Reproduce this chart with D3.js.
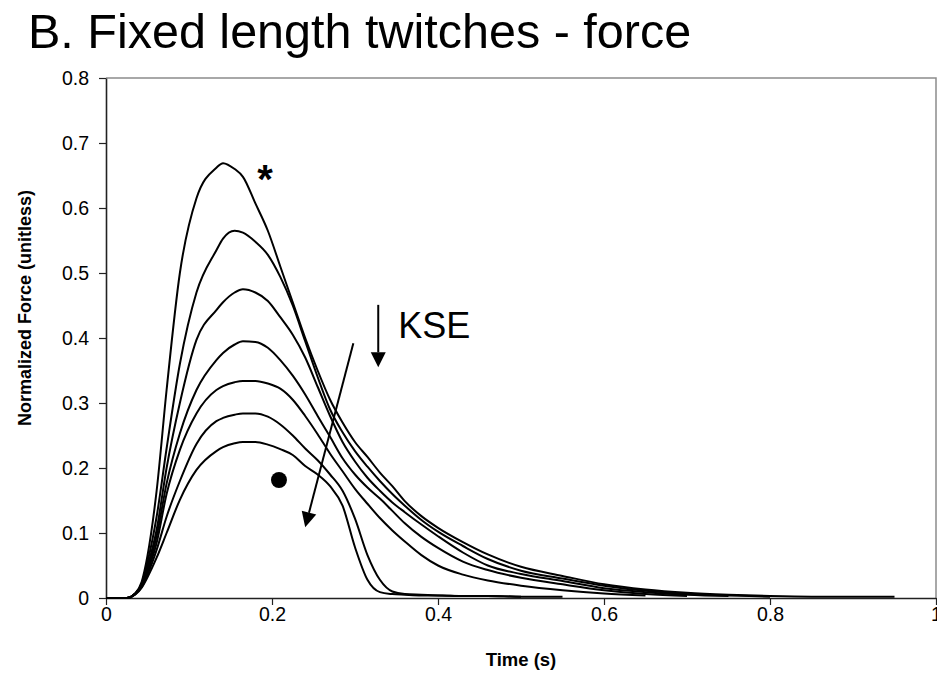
<!DOCTYPE html>
<html>
<head>
<meta charset="utf-8">
<style>
  body { margin: 0; background: #fff; }
  text { font-family: "Liberation Sans", Arial, sans-serif; fill: #000; }
</style>
</head>
<body>
<svg id="chart" width="937" height="690"></svg>
<script src="https://cdn.jsdelivr.net/npm/d3@7"></script>
<script>
// time (s) shared by all twitches
const time = [0, 0.025, 0.035, 0.043, 0.05, 0.061, 0.073, 0.089, 0.109, 0.133, 0.141, 0.155, 0.165, 0.18,
  0.195, 0.21, 0.225, 0.24, 0.255, 0.27, 0.285, 0.30, 0.315, 0.33, 0.345, 0.36, 0.38, 0.40, 0.43, 0.46,
  0.50, 0.55, 0.60, 0.65, 0.70, 0.75, 0.80, 0.85, 0.90, 0.95]

// normalized force, one array per KSE value (null = series ended)
const force1 = [0, 0, 0.007, 0.025, 0.065, 0.165, 0.32, 0.50, 0.615, 0.662, 0.669, 0.66, 0.648, 0.607,
  0.565, 0.51, 0.455, 0.40, 0.35, 0.305, 0.27, 0.24, 0.217, 0.193, 0.172, 0.149, 0.126, 0.108, 0.086, 0.067,
  0.048, 0.034, 0.021, 0.013, 0.008, 0.005, 0.003, 0.002, 0.002, 0.002]
const force2 = [0, 0, 0.007, 0.022, 0.055, 0.125, 0.23, 0.36, 0.47, 0.535, 0.553, 0.565, 0.562, 0.548,
  0.528, 0.494, 0.45, 0.395, 0.34, 0.29, 0.255, 0.226, 0.202, 0.18, 0.16, 0.142, 0.12, 0.102, 0.08, 0.06,
  0.042, 0.03, 0.019, 0.011, 0.006, 0.004, 0.002, null, null, null]
const force3 = [0, 0, 0.006, 0.02, 0.048, 0.105, 0.20, 0.30, 0.397, 0.443, 0.455, 0.47, 0.475, 0.47,
  0.457, 0.432, 0.405, 0.37, 0.325, 0.28, 0.24, 0.21, 0.185, 0.165, 0.147, 0.132, 0.113, 0.095, 0.07, 0.05,
  0.037, 0.026, 0.015, 0.009, 0.005, 0.003, null, null, null, null]
const force4 = [0, 0, 0.006, 0.019, 0.043, 0.095, 0.176, 0.253, 0.32, 0.366, 0.377, 0.39, 0.395, 0.394,
  0.385, 0.366, 0.342, 0.313, 0.28, 0.248, 0.215, 0.19, 0.17, 0.153, 0.134, 0.115, 0.094, 0.077, 0.056, 0.043,
  0.031, 0.021, 0.012, 0.006, 0.003, null, null, null, null, null]
const force5 = [0, 0, 0.006, 0.018, 0.04, 0.085, 0.16, 0.228, 0.284, 0.32, 0.326, 0.332, 0.334, 0.334,
  0.33, 0.322, 0.305, 0.28, 0.252, 0.222, 0.195, 0.168, 0.145, 0.123, 0.104, 0.087, 0.066, 0.05, 0.036, 0.027,
  0.019, 0.012, 0.007, 0.004, null, null, null, null, null, null]
const force6 = [0, 0, 0.006, 0.017, 0.036, 0.074, 0.125, 0.18, 0.237, 0.272, 0.277, 0.282, 0.284, 0.284,
  0.279, 0.267, 0.25, 0.23, 0.212, 0.19, 0.165, 0.122, 0.066, 0.028, 0.01, 0.006, 0.005, 0.004, 0.003, 0.003,
  0.002, 0.002, null, null, null, null, null, null, null, null]
const force7 = [0, 0, 0.005, 0.016, 0.032, 0.062, 0.10, 0.151, 0.197, 0.226, 0.232, 0.238, 0.24, 0.24,
  0.236, 0.229, 0.22, 0.203, 0.19, 0.172, 0.142, 0.078, 0.028, 0.009, 0.006, 0.005, 0.004, 0.004, 0.003, 0.003,
  0.002, null, null, null, null, null, null, null, null, null]

const allForces = [force1, force2, force3, force4, force5, force6, force7]

const xTicks = [0, 0.2, 0.4, 0.6, 0.8, 1]
const yTicks = [0, 0.1, 0.2, 0.3, 0.4, 0.5, 0.6, 0.7, 0.8]

let svg = d3.select("#chart")

let plotLeft = 106, plotRight = 936, plotTop = 78, plotBottom = 598

let x = d3.scaleLinear().domain([0, 1]).range([plotLeft, plotRight])
let y = d3.scaleLinear().domain([0, 0.8]).range([plotBottom, plotTop])

// plot border (grey) on top and right
svg.append("path")
  .attr("d", `M${plotLeft},${plotTop}H${plotRight}V${plotBottom}`)
  .attr("fill", "none")
  .attr("stroke", "#8c8c8c")
  .attr("stroke-width", 1.5)

// axes
let xAxis = svg.append("g")
  .attr("transform", `translate(0,${plotBottom})`)
  .call(d3.axisBottom(x).tickValues(xTicks).tickSize(7).tickSizeOuter(0)
    .tickFormat(d => d === 0 || d === 1 ? d : d3.format(".1f")(d)))
let yAxis = svg.append("g")
  .attr("transform", `translate(${plotLeft},0)`)
  .call(d3.axisLeft(y).tickValues(yTicks).tickSize(7).tickSizeOuter(0)
    .tickFormat(d => d === 0 ? "0" : d3.format(".1f")(d)))

for (let ax of [xAxis, yAxis]) {
  ax.select(".domain").attr("stroke", "#222").attr("stroke-width", 1.6)
  ax.selectAll(".tick line").attr("stroke", "#222").attr("stroke-width", 1.2)
  ax.selectAll(".tick text")
    .attr("font-size", 19.5)
    .attr("font-family", "Liberation Sans, Arial, sans-serif")
    .attr("fill", "#000")
}
xAxis.selectAll(".tick text").attr("y", 9).attr("dy", "0.71em")
yAxis.selectAll(".tick text").attr("x", -17)

// curves
let line = d3.line()
  .defined(d => d[1] != null)
  .x(d => x(d[0]))
  .y(d => y(d[1]))
  .curve(d3.curveMonotoneX)

svg.append("g").selectAll("path")
  .data(allForces)
  .enter().append("path")
  .attr("d", s => line(time.map((t, i) => [t, s[i]])))
  .attr("fill", "none")
  .attr("stroke", "#000")
  .attr("stroke-width", 2)

// arrow helper: shaft plus filled head at the end
function arrow(x1, y1, x2, y2) {
  let px1 = x(x1), py1 = y(y1), px2 = x(x2), py2 = y(y2)
  let a = Math.atan2(py2 - py1, px2 - px1)
  let len = 15, half = 7.5
  let bx = px2 - len * Math.cos(a), by = py2 - len * Math.sin(a)
  svg.append("line")
    .attr("x1", px1).attr("y1", py1).attr("x2", bx).attr("y2", by)
    .attr("stroke", "#000").attr("stroke-width", 2)
  svg.append("path")
    .attr("d", `M${px2},${py2}L${bx - half * Math.sin(a)},${by + half * Math.cos(a)}L${bx + half * Math.sin(a)},${by - half * Math.cos(a)}Z`)
    .attr("fill", "#000")
}

arrow(0.328, 0.451, 0.328, 0.355)
arrow(0.298, 0.392, 0.24, 0.109)

svg.append("text")
  .attr("x", x(0.352)).attr("y", y(0.4))
  .attr("font-size", 36)
  .text("KSE")

svg.append("text")
  .attr("x", x(0.1916)).attr("y", y(0.655) + 21)
  .attr("text-anchor", "middle")
  .attr("font-size", 40)
  .attr("font-weight", "bold")
  .text("*")

svg.append("circle")
  .attr("cx", x(0.2084)).attr("cy", y(0.1815))
  .attr("r", 8)
  .attr("fill", "#000")

// titles
svg.append("text")
  .attr("x", 28).attr("y", 48)
  .attr("font-size", 48.5)
  .text("B. Fixed length twitches - force")

svg.append("text")
  .attr("transform", `translate(31,308) rotate(-90)`)
  .attr("text-anchor", "middle")
  .attr("font-size", 18)
  .attr("font-weight", "bold")
  .text("Normalized Force (unitless)")

svg.append("text")
  .attr("x", (plotLeft + plotRight) / 2).attr("y", 666)
  .attr("text-anchor", "middle")
  .attr("font-size", 18.5)
  .attr("font-weight", "bold")
  .text("Time (s)")
</script>
</body>
</html>
